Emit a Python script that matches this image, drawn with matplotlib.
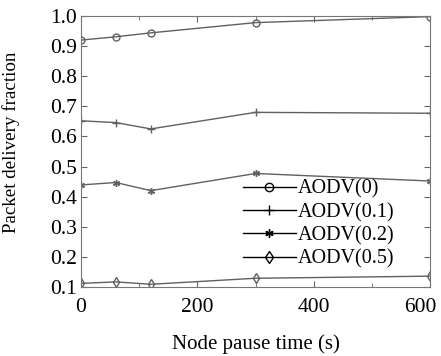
import matplotlib
matplotlib.use('Agg')
from matplotlib import pyplot as plt
from matplotlib import transforms

plt.rcParams['font.family'] = ['Liberation Serif', 'DejaVu Serif']

# 数据
pause = [0, 60, 120, 300, 600]
aodv0 = [0.920, 0.931, 0.944, 0.978, 0.998]
aodv01 = [0.652, 0.646, 0.625, 0.680, 0.677]
aodv02 = [0.439, 0.447, 0.420, 0.477, 0.452]
aodv05 = [0.112, 0.117, 0.109, 0.129, 0.136]
labels = ['AODV(0)', 'AODV(0.1)', 'AODV(0.2)', 'AODV(0.5)']

fig = plt.figure(figsize=(4.41, 3.56), dpi=100)
ax = fig.add_axes([81/441, 1-287/356, 349/441, 271/356])

gray = '#606060'
series = [aodv0, aodv01, aodv02, aodv05]
markers = ['o', '+', (6, 2, 0), 'd']
sizes = [5, 6, 5, 5]
for ys, m, s in zip(series, markers, sizes):
    ax.plot(pause, ys, color=gray, lw=1, marker=m, ms=s,
            mfc='none', mec=gray, mew=1)

# 图例用黑色
handles = []
for m, s in zip(markers, sizes):
    h, = ax.plot([], [], color='black', lw=1, marker=m, ms=s + 1,
                 mfc='none', mec='black', mew=1)
    handles.append(h)
ax.legend(handles, labels, loc='lower left', bbox_to_anchor=(0.436, 0.03),
          frameon=False, fontsize=14.5, handlelength=2.6, handletextpad=0.1,
          labelspacing=0.2, borderpad=0)

ax.set_xlim(0, 600)
ax.set_ylim(0.1, 1.0)
ax.set_xticks([0, 200, 400, 600])
ax.set_xticks(range(0, 601, 100), minor=True)
ax.set_yticks([0.1 * i for i in range(1, 11)])
ax.set_yticklabels(['%.1f' % (0.1 * i) for i in range(1, 11)])
ax.tick_params(direction='in', top=True, right=True, labelsize=15.5,
               length=4, color='#666666')
ax.tick_params(axis='x', pad=8)
ax.tick_params(axis='y', pad=3)
ax.tick_params(which='minor', direction='in', top=True, right=True,
               length=3, color='#666666')
for sp in ax.spines.values():
    sp.set_color('#777777')

# 600 往左挪一点，不要被切掉
fig.canvas.draw()
last = ax.get_xticklabels()[-1]
last.set_transform(last.get_transform() +
                   transforms.ScaledTranslation(-10/100, 0, fig.dpi_scale_trans))

ax.set_xlabel('Node pause time (s)', fontsize=15, labelpad=12)
ax.set_ylabel('Packet delivery fraction', fontsize=13.7)
ax.yaxis.set_label_coords(-0.175, 0.535)

fig.savefig('out.png', dpi=100)
